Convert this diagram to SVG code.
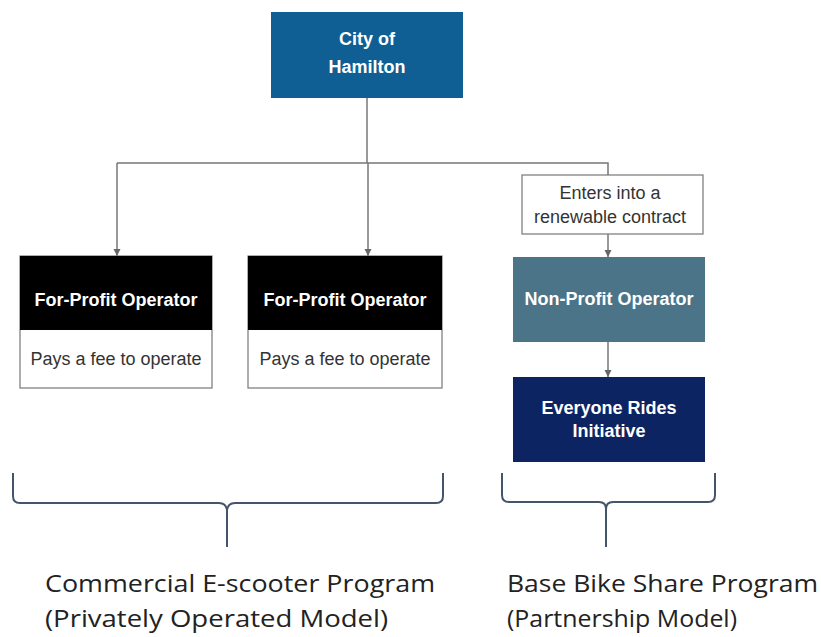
<svg xmlns="http://www.w3.org/2000/svg" width="821" height="637" viewBox="0 0 821 637">
  <style>
    .hdr { font-family: "Liberation Sans", Arial, sans-serif; font-weight: bold; font-size: 18px; fill: #ffffff; text-anchor: middle; }
    .sub { font-family: "Liberation Sans", Arial, sans-serif; font-size: 18px; fill: #333333; text-anchor: middle; }
    .cap { font-family: "Open Sans", "Noto Sans", sans-serif; font-size: 24px; fill: #222222; }
    .edge { fill: none; stroke: #777777; stroke-width: 1.5; }
    .brace { fill: none; stroke: #44546a; stroke-width: 2; }
    .outline { fill: #ffffff; stroke: #777777; stroke-width: 1.2; }
  </style>
  <defs>
    <marker id="arrow" viewBox="0 0 10 10" refX="10" refY="5" markerWidth="5" markerHeight="5" orient="auto">
      <path d="M0,0 L10,5 L0,10 z" fill="#666666"/>
    </marker>
  </defs>
  <rect width="821" height="637" fill="#ffffff"/>

  <g id="connectors">
    <path class="edge" d="M367,98 V163"/>
    <path class="edge" d="M117,163 H608 V175"/>
    <path class="edge" d="M117,163 V256" marker-end="url(#arrow)"/>
    <path class="edge" d="M368,163 V256" marker-end="url(#arrow)"/>
    <path class="edge" d="M608,234 V257" marker-end="url(#arrow)"/>
    <path class="edge" d="M608,342 V377" marker-end="url(#arrow)"/>
  </g>

  <g id="city">
    <rect x="271" y="12" width="192" height="86" fill="#0f5f94"/>
    <text class="hdr" x="367" y="45">City of</text>
    <text class="hdr" x="367" y="73">Hamilton</text>
  </g>

  <g id="operator-a">
    <rect class="outline" x="20" y="256" width="192" height="132"/>
    <rect x="20" y="256" width="192" height="74" fill="#000000"/>
    <text class="hdr" x="116" y="306">For-Profit Operator</text>
    <text class="sub" x="116" y="365">Pays a fee to operate</text>
  </g>

  <g id="operator-b">
    <rect class="outline" x="248" y="256" width="194" height="132"/>
    <rect x="248" y="256" width="194" height="74" fill="#000000"/>
    <text class="hdr" x="345" y="306">For-Profit Operator</text>
    <text class="sub" x="345" y="365">Pays a fee to operate</text>
  </g>

  <g id="contract">
    <rect class="outline" x="522" y="175" width="181" height="59"/>
    <text class="sub" x="610" y="199">Enters into a</text>
    <text class="sub" x="610" y="223">renewable contract</text>
  </g>

  <g id="nonprofit">
    <rect x="513" y="257" width="192" height="85" fill="#4b7488"/>
    <text class="hdr" x="609" y="305">Non-Profit Operator</text>
  </g>

  <g id="everyone-rides">
    <rect x="513" y="377" width="192" height="85" fill="#0d2462"/>
    <text class="hdr" x="609" y="414">Everyone Rides</text>
    <text class="hdr" x="609" y="437">Initiative</text>
  </g>

  <g id="brace-commercial">
    <path class="brace" d="M13,473 V496 Q13,503 20,503 H219 Q226,503 227,510 Q228,503 235,503 H436 Q443,503 443,496 V473 M227,510 V547"/>
    <text class="cap" x="45" y="592" textLength="390" lengthAdjust="spacingAndGlyphs">Commercial E-scooter Program</text>
    <text class="cap" x="45" y="627" textLength="343" lengthAdjust="spacingAndGlyphs">(Privately Operated Model)</text>
  </g>

  <g id="brace-bikeshare">
    <path class="brace" d="M502,473 V495 Q502,502 509,502 H599 Q606,502 606,509 Q606,502 613,502 H708 Q715,502 715,495 V473 M606,509 V547"/>
    <text class="cap" x="507" y="592" textLength="311" lengthAdjust="spacingAndGlyphs">Base Bike Share Program</text>
    <text class="cap" x="507" y="627" textLength="230" lengthAdjust="spacingAndGlyphs">(Partnership Model)</text>
  </g>
</svg>
